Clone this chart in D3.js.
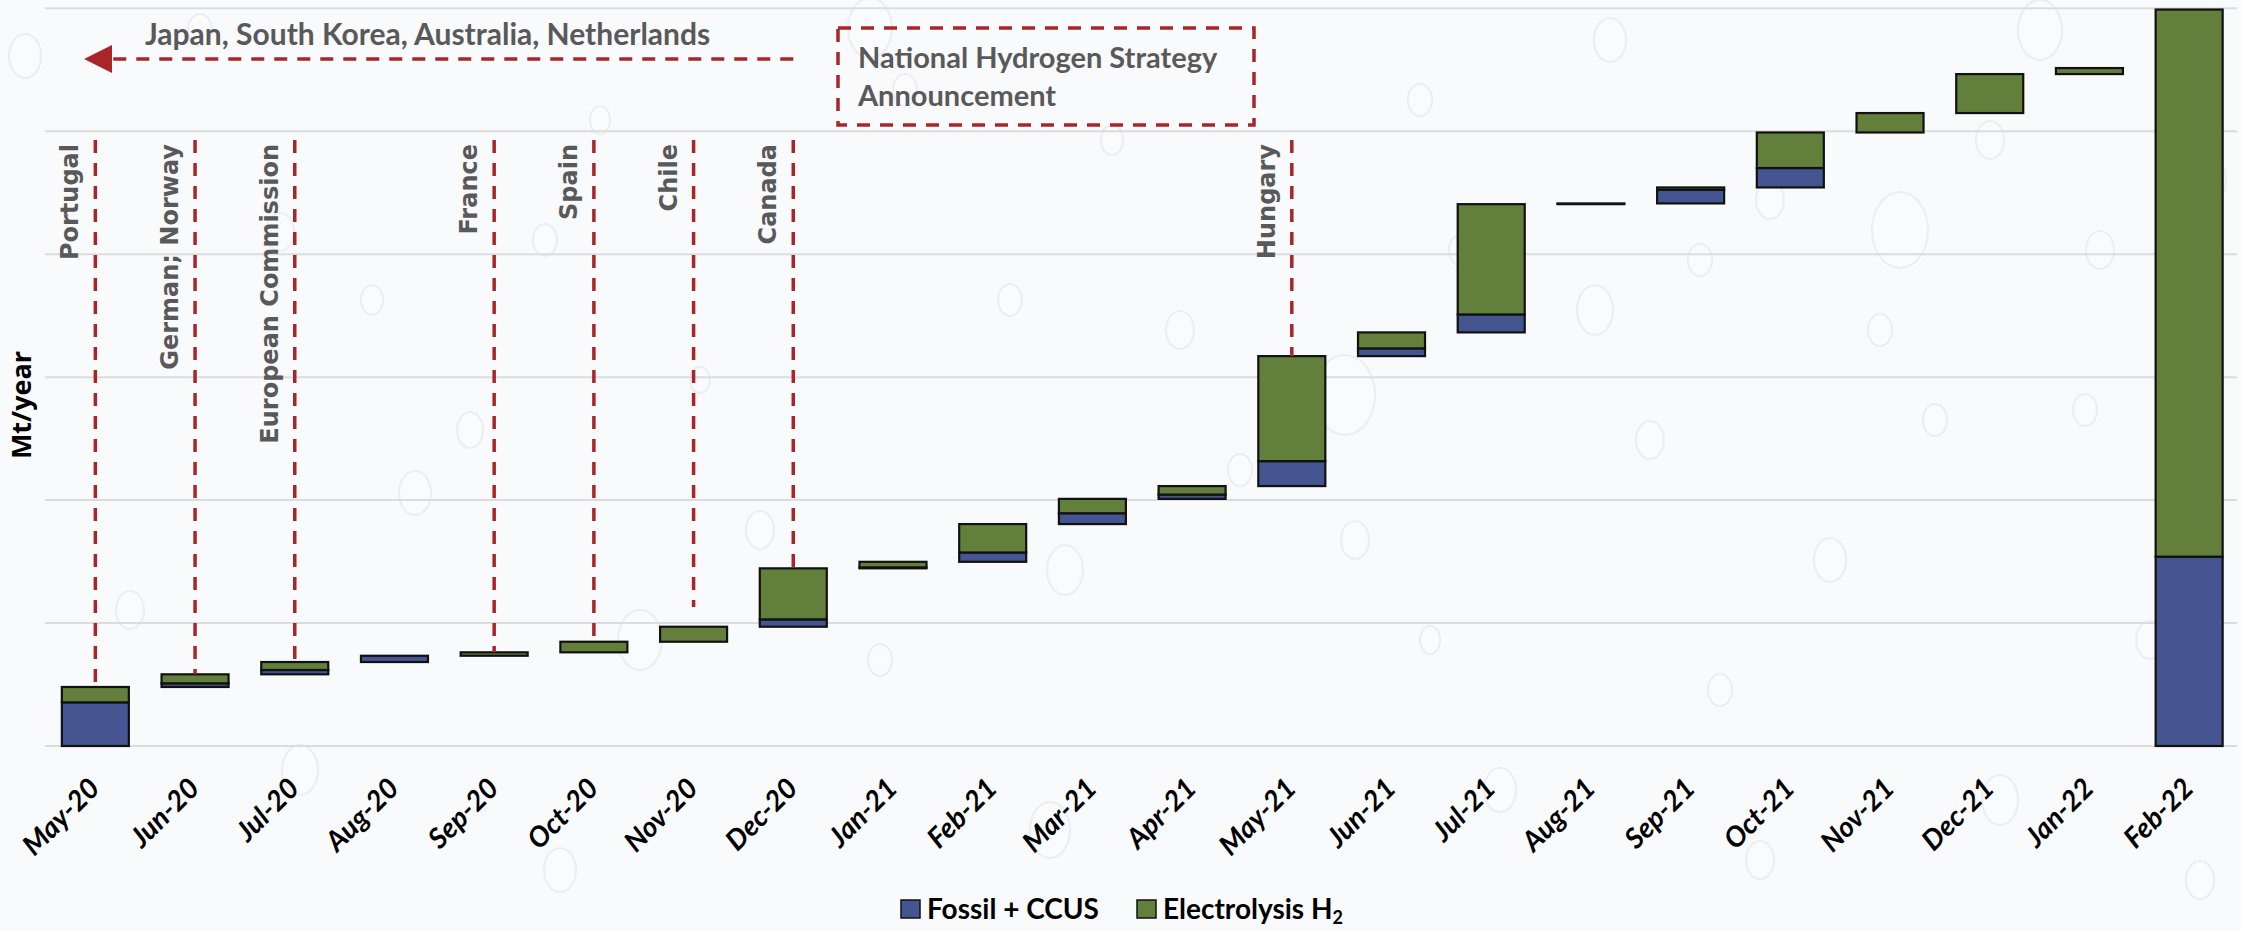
<!DOCTYPE html>
<html>
<head>
<meta charset="utf-8">
<script src="https://cdn.jsdelivr.net/npm/d3@7/dist/d3.min.js"></script>
<style>
  html, body { margin: 0; padding: 0; background: #f9fafc; }
  svg { display: block; }
</style>
</head>
<body>
<svg id="chart" width="2241" height="931"></svg>
<script>
// Monthly additions to announced low-carbon hydrogen output (waterfall)
const months = ["May-20", "Jun-20", "Jul-20", "Aug-20", "Sep-20", "Oct-20", "Nov-20",
  "Dec-20", "Jan-21", "Feb-21", "Mar-21", "Apr-21", "May-21", "Jun-21", "Jul-21",
  "Aug-21", "Sep-21", "Oct-21", "Nov-21", "Dec-21", "Jan-22"];
const fossilStep = [0.355, 0.030, 0.035, 0.051, 0.000, 0.000, 0.000,
  0.060, 0.008, 0.076, 0.088, 0.035, 0.203, 0.063, 0.146,
  0.000, 0.110, 0.158, 0.000, 0.000, 0.000];
const electroStep = [0.125, 0.073, 0.065, 0.000, 0.028, 0.086, 0.122,
  0.415, 0.045, 0.231, 0.117, 0.069, 0.854, 0.130, 0.897,
  0.006, 0.020, 0.289, 0.158, 0.317, 0.049];
// Closing total column
const totalMonth = "Feb-22";
const totalFossil = 1.54;
const totalElectro = 4.45;

const yTicks = [0, 1, 2, 3, 4, 5, 6];
const seriesNames = ["Fossil + CCUS", "Electrolysis H"];

// National hydrogen strategy announcements (stop: where the leader line ends, Mt/year)
const strategyMarks = [
  { month: "May-20", label: "Portugal", stop: null },
  { month: "Jun-20", label: "German; Norway", stop: null },
  { month: "Jul-20", label: "European Commission", stop: null },
  { month: "Sep-20", label: "France", stop: null },
  { month: "Oct-20", label: "Spain", stop: 0.88 },
  { month: "Nov-20", label: "Chile", stop: 1.13 },
  { month: "Dec-20", label: "Canada", stop: null },
  { month: "May-21", label: "Hungary", stop: null }
];
const earlierStrategies = "Japan, South Korea, Australia, Netherlands";
const boxTitle = ["National Hydrogen Strategy", "Announcement"];

// Decorative water-droplet backdrop: [cx, cy, rx, ry]
const droplets = [
  [25, 56, 16, 22], [200, 30, 12, 16], [280, 232, 14, 19], [372, 300, 11, 15],
  [415, 493, 16, 22], [470, 430, 13, 18], [545, 240, 12, 16], [600, 120, 10, 14],
  [640, 640, 22, 30], [700, 380, 10, 13], [760, 530, 14, 19], [870, 28, 22, 30],
  [905, 90, 12, 16], [1010, 300, 12, 16], [1065, 570, 18, 25], [1112, 140, 11, 15],
  [1180, 330, 14, 19], [1240, 470, 12, 16], [1345, 395, 30, 40], [1355, 540, 14, 19],
  [1420, 100, 12, 16], [1460, 250, 11, 15], [1595, 310, 18, 25], [1650, 440, 14, 19],
  [1700, 260, 12, 16], [1770, 200, 14, 19], [1830, 560, 16, 22], [1880, 330, 12, 16],
  [1900, 230, 28, 38], [1935, 420, 12, 16], [1990, 140, 14, 19], [2040, 30, 22, 30],
  [2085, 410, 12, 16], [2100, 250, 14, 19], [2210, 180, 16, 22], [1610, 40, 16, 22],
  [130, 610, 14, 19], [300, 770, 18, 25], [560, 870, 16, 22], [1050, 830, 20, 28],
  [1500, 790, 16, 22], [1760, 860, 14, 19], [2000, 800, 18, 25], [2200, 880, 14, 19],
  [880, 660, 12, 16], [1430, 640, 10, 14], [1720, 690, 12, 16], [2150, 640, 14, 19]
];

const colors = { fossil: "#455592", electro: "#62803b", marker: "#a8262a", grid: "#dcdcdc", note: "#595959" };

const W = 2241, H = 931;
const svg = d3.select("#chart").attr("viewBox", `0 0 ${W} ${H}`);

svg.append("rect").attr("width", W).attr("height", H).attr("fill", "#f9fafc");

svg.append("g").selectAll("ellipse").data(droplets).join("ellipse")
  .attr("cx", d => d[0]).attr("cy", d => d[1])
  .attr("rx", d => d[2]).attr("ry", d => d[3])
  .attr("fill", "rgba(255,255,255,0.25)")
  .attr("stroke", "#eceef1").attr("stroke-width", 2.2);

const categories = months.concat([totalMonth]);
const x = d3.scaleBand().domain(categories).range([45.5, 2239])
  .paddingInner(0.328).paddingOuter(0.164);
const y = d3.scaleLinear().domain([0, 6]).range([746, 8.3]);
const bw = x.bandwidth();

// Gridlines
svg.append("g").selectAll("line").data(yTicks).join("line")
  .attr("x1", 45).attr("x2", 2237)
  .attr("y1", d => y(d)).attr("y2", d => y(d))
  .attr("stroke", colors.grid).attr("stroke-width", 2);

// Waterfall segments
const segments = [];
const tops = {};
let running = 0;
months.forEach((m, i) => {
  segments.push({ m, key: "fossil", y0: running, y1: running + fossilStep[i] });
  running += fossilStep[i];
  segments.push({ m, key: "electro", y0: running, y1: running + electroStep[i] });
  running += electroStep[i];
  tops[m] = running;
});
segments.push({ m: totalMonth, key: "fossil", y0: 0, y1: totalFossil });
segments.push({ m: totalMonth, key: "electro", y0: totalFossil, y1: totalFossil + totalElectro });
tops[totalMonth] = totalFossil + totalElectro;

svg.append("g").selectAll("rect").data(segments.filter(s => s.y1 > s.y0)).join("rect")
  .attr("x", d => x(d.m))
  .attr("y", d => y(d.y1))
  .attr("width", bw)
  .attr("height", d => Math.max(0.6, y(d.y0) - y(d.y1)))
  .attr("fill", d => colors[d.key])
  .attr("stroke", "#111").attr("stroke-width", 2.2);

// X axis labels
const xAxis = svg.append("g").attr("transform", `translate(0,746)`)
  .call(d3.axisBottom(x).tickSize(0));
xAxis.select(".domain").remove();
xAxis.selectAll("text")
  .attr("x", 0).attr("y", 0).attr("dy", null)
  .attr("transform", "translate(6,44) rotate(-45)")
  .attr("text-anchor", "end")
  .attr("fill", "#000")
  .style("font-family", "Lato, 'Open Sans', sans-serif")
  .style("font-weight", "700").style("font-style", "italic")
  .style("font-size", "28px");

// Y axis title
svg.append("text")
  .attr("transform", "translate(31,405) rotate(-90)")
  .attr("text-anchor", "middle")
  .style("font-family", "'Open Sans', sans-serif").style("font-weight", "700")
  .style("font-size", "27px").attr("fill", "#000")
  .text("Mt/year");

// Strategy leader lines and labels
const markG = svg.append("g");
strategyMarks.forEach(d => {
  const cx = x(d.month) + bw / 2;
  const stop = d.stop == null ? tops[d.month] : d.stop;
  markG.append("line")
    .attr("x1", cx).attr("x2", cx).attr("y1", 140).attr("y2", y(stop))
    .attr("stroke", colors.marker).attr("stroke-width", 3.5)
    .attr("stroke-dasharray", "13,10");
  markG.append("text")
    .attr("transform", `translate(${cx - 17},144) rotate(-90)`)
    .attr("text-anchor", "end")
    .style("font-family", "'DejaVu Sans', sans-serif").style("font-weight", "700")
    .style("font-size", "24px").attr("fill", colors.note)
    .text(d.label);
});

// Arrow pointing to earlier announcements
const arrowStart = x("Dec-20") + bw / 2;
markG.append("line")
  .attr("x1", arrowStart).attr("x2", 108).attr("y1", 59).attr("y2", 59)
  .attr("stroke", colors.marker).attr("stroke-width", 3.5)
  .attr("stroke-dasharray", "13,10");
markG.append("path")
  .attr("d", "M84,59 L112,45 L112,73 Z")
  .attr("fill", colors.marker);
markG.append("text")
  .attr("x", 145).attr("y", 45)
  .style("font-family", "Lato, sans-serif").style("font-weight", "700")
  .style("font-size", "30px").attr("fill", colors.note)
  .text(earlierStrategies);

// Dashed key box
markG.append("rect")
  .attr("x", 838).attr("y", 28).attr("width", 416).attr("height", 97)
  .attr("fill", "none").attr("stroke", colors.marker).attr("stroke-width", 3.5)
  .attr("stroke-dasharray", "13,10");
boxTitle.forEach((t, i) => {
  markG.append("text")
    .attr("x", 858).attr("y", 68 + i * 38)
    .style("font-family", "Lato, sans-serif").style("font-weight", "700")
    .style("font-size", "29px").attr("fill", colors.note)
    .text(t);
});

// Legend
const legend = svg.append("g");
const legendItems = [
  { name: seriesNames[0], color: colors.fossil, x: 901 },
  { name: seriesNames[1], color: colors.electro, x: 1137, sub: "2" }
];
legendItems.forEach(d => {
  legend.append("rect").attr("x", d.x).attr("y", 900).attr("width", 19).attr("height", 18)
    .attr("fill", d.color).attr("stroke", "#111").attr("stroke-width", 1.5);
  const t = legend.append("text").attr("x", d.x + 26).attr("y", 919)
    .style("font-family", "Lato, sans-serif").style("font-weight", "700")
    .style("font-size", "28px").attr("fill", "#000")
    .text(d.name);
  if (d.sub) {
    t.append("tspan").attr("dy", 5).style("font-size", "18px").text(d.sub);
  }
});
</script>
</body>
</html>
